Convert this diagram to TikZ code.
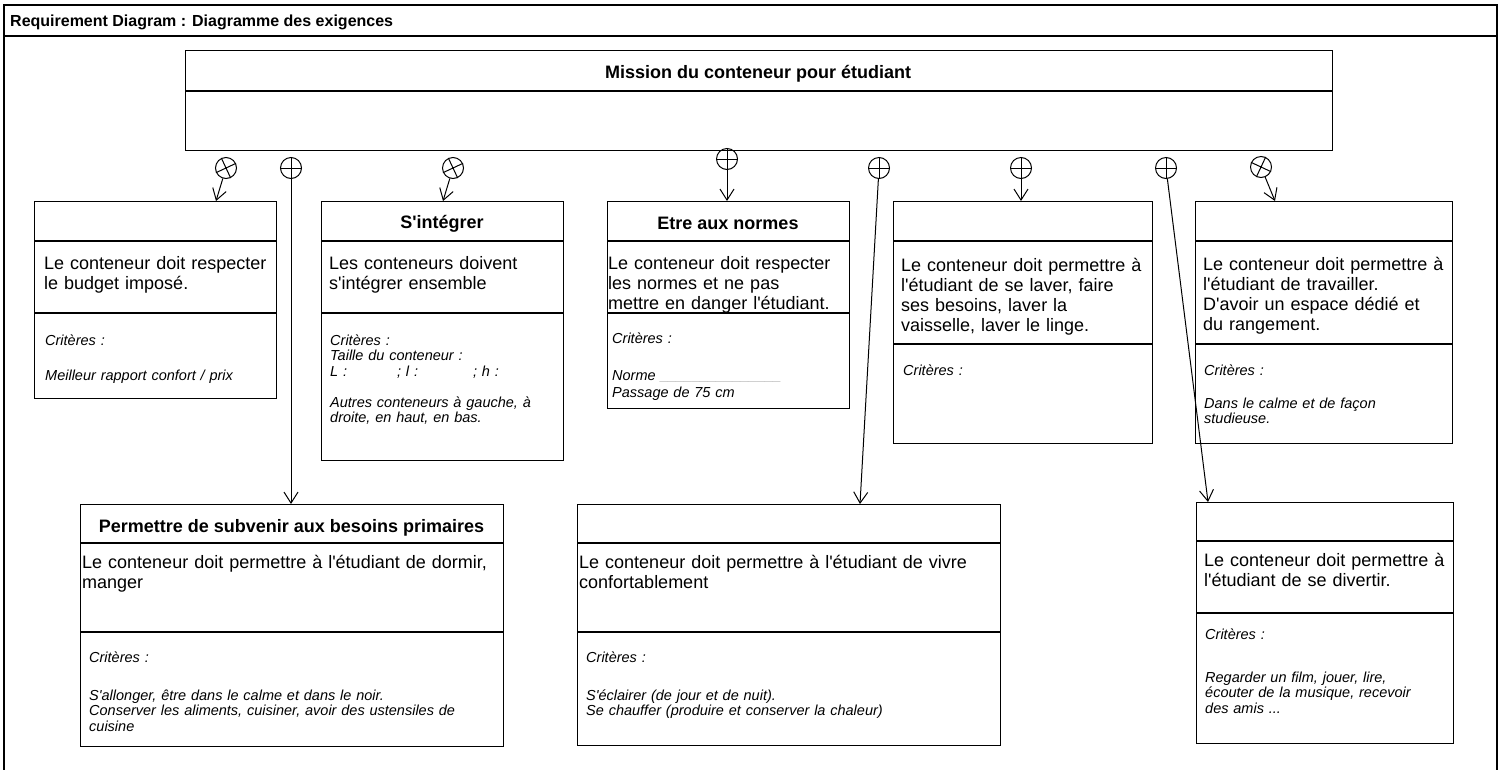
\documentclass[tikz,border=0pt]{standalone}
\usepackage{fontspec}
\setmainfont{Liberation Sans}[Ligatures=TeXOff]
\usetikzlibrary{arrows.meta}

\begin{document}
\begin{tikzpicture}[x=1pt,y=-1pt,
        frame/.style={draw,line width=1.4pt},
        req/.style={draw,line width=1.2pt,anchor=north west,inner sep=0pt},
        compart/.style={line width=1.2pt},
        contain/.style={circle,draw,line width=1pt,minimum size=21pt,inner sep=0pt},
        cross/.style={line width=1pt},
        link/.style={line width=1pt,-{Straight Barb[length=11pt,width=14pt]}},
        hdr/.style={anchor=base west,inner sep=0pt,font=\bfseries\fontsize{16}{18}\selectfont},
        reqtitle/.style={anchor=base,inner sep=0pt,font=\bfseries\fontsize{18}{20}\selectfont},
        body/.style={anchor=base west,inner sep=0pt,text width=440pt,align=left,font=\fontsize{18}{20}\selectfont},
        crit/.style={anchor=base west,inner sep=0pt,text width=440pt,align=left,font=\itshape\fontsize{14.5}{15.5}\selectfont}]
        \useasboundingbox (0,0) rectangle (1506,769);

        % Frame of the diagram
        \draw[frame] (4,780) -- (4,5) -- (1497,5) -- (1497,780);
        \draw[frame] (4,36) -- (1497,36);
        \node[hdr] (diagtitle) at (10,26) {Requirement Diagram : Diagramme des exigences};

        % Main requirement
        \node[req,minimum width=1147pt,minimum height=100pt] (mission) at (185,50) {};
        \draw[compart] ([yshift=-41pt]mission.north west) -- ([yshift=-41pt]mission.north east);
        \node[reqtitle] (mission-t) at (758,78) {Mission du conteneur pour étudiant};

        % Upper row
        \node[req,minimum width=242pt,minimum height=197pt] (budget) at (34,201) {};
        \draw[compart] ([yshift=-40pt]budget.north west) -- ([yshift=-40pt]budget.north east)
            ([yshift=-112pt]budget.north west) -- ([yshift=-112pt]budget.north east);
        \node[body] (budget-b) at (44,269) {Le conteneur doit respecter\\le budget imposé.};
        \node[crit] (budget-c) at (45,345) {Critères :\\[19.5pt]Meilleur rapport confort / prix};

        \node[req,minimum width=242pt,minimum height=259pt] (integrer) at (321,201) {};
        \draw[compart] ([yshift=-40pt]integrer.north west) -- ([yshift=-40pt]integrer.north east)
            ([yshift=-112pt]integrer.north west) -- ([yshift=-112pt]integrer.north east);
        \node[reqtitle] (integrer-t) at (442,228) {S'intégrer};
        \node[body] (integrer-b) at (329,269) {Les conteneurs doivent\\s'intégrer ensemble};
        \node[crit] (integrer-c) at (330,345) {Critères :\\Taille du conteneur :\\L :\hspace{50pt}; l :\hspace{55pt}; h :\\[15.5pt]Autres conteneurs à gauche, à\\droite, en haut, en bas.};

        \node[req,minimum width=242pt,minimum height=207pt] (normes) at (607,201) {};
        \draw[compart] ([yshift=-40pt]normes.north west) -- ([yshift=-40pt]normes.north east)
            ([yshift=-112pt]normes.north west) -- ([yshift=-112pt]normes.north east);
        \node[reqtitle] (normes-t) at (728,229) {Etre aux normes};
        \node[body] (normes-b) at (608,269) {Le conteneur doit respecter\\les normes et ne pas\\mettre en danger l'étudiant.};
        \node[crit] (normes-c) at (612,343) {Critères :\\[21.5pt]Norme \textcolor{gray!70}{\_\_\_\_\_\_\_\_\_\_\_\_\_\_\_}\\[1.5pt]Passage de 75 cm};

        \node[req,minimum width=259pt,minimum height=242pt] (hygiene) at (893,201) {};
        \draw[compart] ([yshift=-40pt]hygiene.north west) -- ([yshift=-40pt]hygiene.north east)
            ([yshift=-143pt]hygiene.north west) -- ([yshift=-143pt]hygiene.north east);
        \node[body] (hygiene-b) at (901,271) {Le conteneur doit permettre à\\l'étudiant de se laver, faire\\ses besoins, laver la\\vaisselle, laver le linge.};
        \node[crit] (hygiene-c) at (903,375) {Critères :};

        \node[req,minimum width=257pt,minimum height=242pt] (travail) at (1195,201) {};
        \draw[compart] ([yshift=-40pt]travail.north west) -- ([yshift=-40pt]travail.north east)
            ([yshift=-143pt]travail.north west) -- ([yshift=-143pt]travail.north east);
        \node[body] (travail-b) at (1203,270) {Le conteneur doit permettre à\\l'étudiant de travailler.\\D'avoir un espace dédié et\\du rangement.};
        \node[crit] (travail-c) at (1204,375) {Critères :\\[17.5pt]Dans le calme et de façon\\studieuse.};

        % Lower row
        \node[req,minimum width=423pt,minimum height=242pt] (besoins) at (80,504) {};
        \draw[compart] ([yshift=-39pt]besoins.north west) -- ([yshift=-39pt]besoins.north east)
            ([yshift=-128pt]besoins.north west) -- ([yshift=-128pt]besoins.north east);
        \node[reqtitle] (besoins-t) at (291.5,532) {Permettre de subvenir aux besoins primaires};
        \node[body] (besoins-b) at (82,568) {Le conteneur doit permettre à l'étudiant de dormir,\\manger};
        \node[crit] (besoins-c) at (89,662) {Critères :\\[22.5pt]S'allonger, être dans le calme et dans le noir.\\Conserver les aliments, cuisiner, avoir des ustensiles de\\cuisine};

        \node[req,minimum width=423pt,minimum height=241pt] (confort) at (577,504) {};
        \draw[compart] ([yshift=-39pt]confort.north west) -- ([yshift=-39pt]confort.north east)
            ([yshift=-128pt]confort.north west) -- ([yshift=-128pt]confort.north east);
        \node[body] (confort-b) at (579,568) {Le conteneur doit permettre à l'étudiant de vivre\\confortablement};
        \node[crit] (confort-c) at (586,662) {Critères :\\[22.5pt]S'éclairer (de jour et de nuit).\\Se chauffer (produire et conserver la chaleur)};

        \node[req,minimum width=257pt,minimum height=241pt] (loisirs) at (1196,502) {};
        \draw[compart] ([yshift=-39pt]loisirs.north west) -- ([yshift=-39pt]loisirs.north east)
            ([yshift=-111pt]loisirs.north west) -- ([yshift=-111pt]loisirs.north east);
        \node[body] (loisirs-b) at (1204,566) {Le conteneur doit permettre à\\l'étudiant de se divertir.};
        \node[crit] (loisirs-c) at (1205,639) {Critères :\\[27.5pt]Regarder un film, jouer, lire,\\écouter de la musique, recevoir\\des amis ...};

        % Containment links
        \node[contain] (c1) at (226,168) {};
        \node[contain] (c2) at (291,168) {};
        \node[contain] (c3) at (453,168) {};
        \node[contain] (c4) at (727,159) {};
        \node[contain] (c5) at (879,168) {};
        \node[contain] (c6) at (1021,168) {};
        \node[contain] (c7) at (1166,168) {};
        \node[contain] (c8) at (1261,167) {};
        \draw[cross] (c1.115) -- (c1.295) (c1.25) -- (c1.205);
        \draw[cross] (c2.north) -- (c2.south) (c2.west) -- (c2.east);
        \draw[cross] (c3.115) -- (c3.295) (c3.25) -- (c3.205);
        \draw[cross] (c4.north) -- (c4.south) (c4.west) -- (c4.east);
        \draw[cross] (c5.north) -- (c5.south) (c5.west) -- (c5.east);
        \draw[cross] (c6.north) -- (c6.south) (c6.west) -- (c6.east);
        \draw[cross] (c7.north) -- (c7.south) (c7.west) -- (c7.east);
        \draw[cross] (c8.65) -- (c8.245) (c8.155) -- (c8.335);

        \draw[link] (c1) -- ([xshift=182pt]budget.north west);
        \draw[link] (c2) -- (c2 |- besoins.north);
        \draw[link] (c3) -- ([xshift=122pt]integrer.north west);
        \draw[link] (c4) -- (c4 |- normes.north);
        \draw[link] (c5) -- ([xshift=283pt]confort.north west);
        \draw[link] (c6) -- (c6 |- hygiene.north);
        \draw[link] (c7) -- ([xshift=12pt]loisirs.north west);
        \draw[link] (c8) -- ([xshift=80pt]travail.north west);
\end{tikzpicture}
\end{document}
